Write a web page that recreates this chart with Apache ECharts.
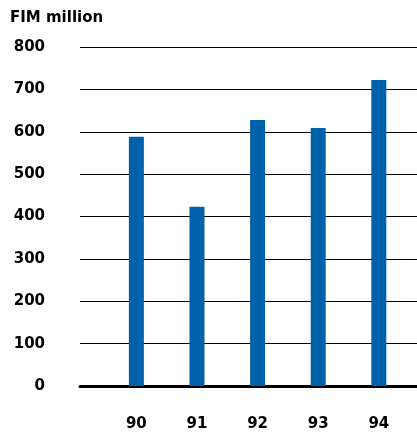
<!DOCTYPE html>
<html>
<head>
<meta charset="utf-8">
<script src="https://cdn.jsdelivr.net/npm/echarts@6/dist/echarts.min.js"></script>
<style>html,body{margin:0;padding:0;background:#fff}#c{width:417px;height:432px}</style>
</head>
<body>
<div id="c"></div>
<script>
const categories = ['90', '91', '92', '93', '94'];
const values = [588, 423, 628, 609, 722];
const yTicks = [0, 100, 200, 300, 400, 500, 600, 700, 800];

const font = 'DejaVu Sans';
const chart = echarts.init(document.getElementById('c'));
chart.setOption({
  animation: false,
  title: {
    text: 'FIM million', left: 5, top: 6,
    textStyle: { fontFamily: font, fontWeight: 'bold', fontSize: 15, color: '#000' }
  },
  grid: { left: 80, right: 0, top: 47, bottom: 45, containLabel: false },
  xAxis: {
    type: 'value', min: 89.07, max: 94.63,
    axisLine: { show: true, onZero: false, lineStyle: { color: '#000', width: 3 } },
    axisTick: { show: false },
    splitLine: { show: false },
    axisLabel: {
      customValues: categories.map(Number),
      margin: 31,
      fontFamily: font, fontWeight: 'bold', fontSize: 15, color: '#000',
      formatter: v => String(v)
    }
  },
  yAxis: {
    type: 'value', min: 0, max: 800, interval: 100,
    axisLine: { show: false },
    axisTick: { show: false },
    splitLine: { show: true, lineStyle: { color: '#000', width: 1 } },
    axisLabel: {
      margin: 35,
      fontFamily: font, fontWeight: 'bold', fontSize: 15, color: '#000',
      customValues: yTicks
    }
  },
  series: [{
    type: 'bar',
    barWidth: 15,
    itemStyle: { color: '#0061ab' },
    data: categories.map((c, i) => [Number(c), values[i]])
  }]
});
</script>
</body>
</html>
